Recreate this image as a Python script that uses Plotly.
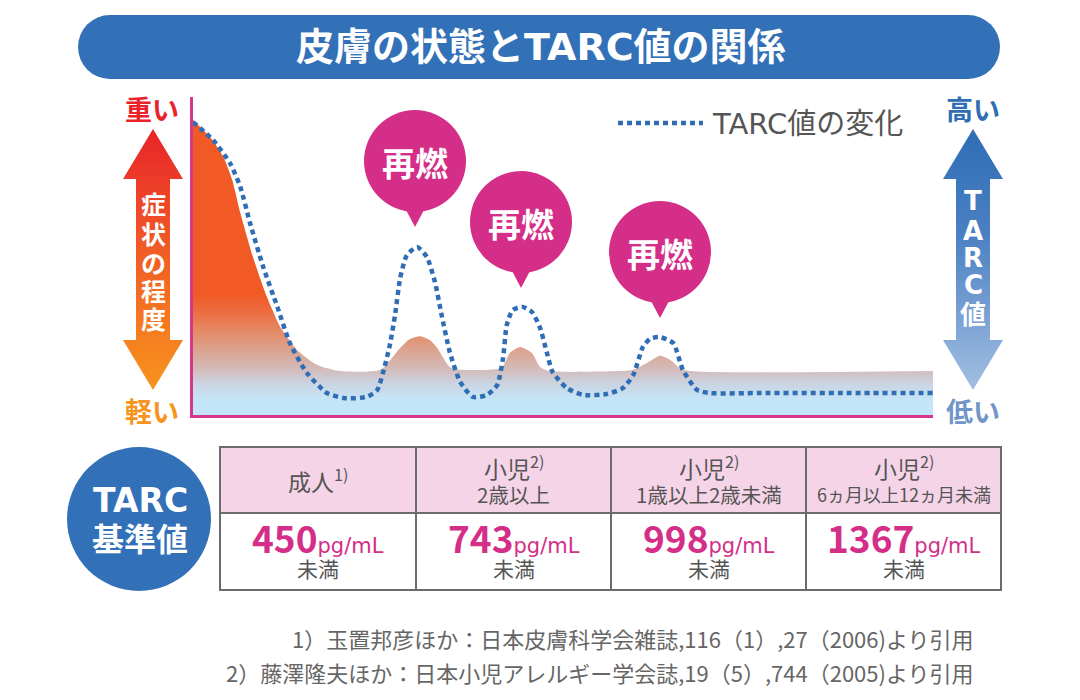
import plotly.graph_objects as go

# page has an 8px body margin: figure is placed at (8, 8) in the 1080x700 window
OFF = 8
W, H = 1080 - OFF, 700 - OFF
FONT = "Noto Sans CJK JP, Noto Sans, sans-serif"
FONT_LAT = "DejaVu Sans, Noto Sans CJK JP, sans-serif"

# ---------------- data ----------------
# time axis 0-100 (arbitrary), level axis 0-100 (arbitrary)
tarc_time = [0.0, 2.7, 5.0, 6.4, 7.7, 9.5, 11.4, 13.1, 15.4, 18.1, 20.5, 23.5, 24.9, 25.7, 26.6,
             27.3, 28.0, 28.9, 30.3, 31.6, 32.7, 33.6, 34.7, 36.1, 37.8, 39.7, 41.1, 41.9, 42.4,
             43.2, 44.5, 45.8, 46.9, 47.8, 48.6, 50.5, 52.7, 55.9, 58.1, 59.5, 60.8, 61.8, 63.1,
             64.9, 66.2, 68.1, 69.9, 76.6, 88.8, 100.0]
tarc_level = [92.1, 86.5, 79.2, 71.7, 60.4, 46.5, 34.0, 22.6, 13.2, 6.9, 5.3, 5.7, 7.9, 13.5, 22.0,
              31.4, 43.1, 50.3, 52.8, 49.7, 41.8, 31.4, 19.8, 10.4, 5.7, 6.3, 9.4, 17.9, 28.3,
              33.0, 34.0, 32.4, 27.4, 19.8, 13.5, 8.5, 6.3, 6.6, 8.5, 12.6, 21.4, 24.0, 24.5,
              22.6, 14.2, 7.9, 6.9, 6.9, 6.9, 6.9]

symptom_time = [0.0, 2.3, 4.1, 5.3, 6.4, 8.1, 10.0, 11.8, 14.1, 16.8, 19.9, 25.3, 28.0, 29.3,
                30.7, 32.0, 33.0, 34.7, 36.1, 41.1, 41.9, 42.8, 44.2, 45.8, 46.9, 48.2, 57.7,
                59.5, 61.4, 63.1, 64.5, 65.8, 67.2, 100.0]
symptom_level = [92.8, 87.4, 81.1, 73.9, 63.5, 49.7, 37.1, 27.7, 20.4, 15.7, 13.8, 14.2, 21.1, 23.9,
                 24.8, 23.6, 21.1, 15.1, 14.2, 14.5, 15.4, 19.5, 21.4, 19.5, 15.1, 13.8, 13.8,
                 14.2, 16.4, 18.6, 17.3, 14.8, 13.8, 13.8]

flare_label = "再燃"
legend_label = "TARC値の変化"
title_text = "皮膚の状態とTARC値の関係"
left_axis_chars = list("症状の程度")
right_axis_chars = ["T", "A", "R", "C", "値"]

table_groups = ["成人", "小児", "小児", "小児"]
table_refs = ["1)", "2)", "2)", "2)"]
table_ages = ["", "2歳以上", "1歳以上2歳未満", "6ヵ月以上12ヵ月未満"]
ref_values = ["450", "743", "998", "1367"]
ref_unit = "pg/mL"
ref_suffix = "未満"
footnotes = ["1）玉置邦彦ほか：日本皮膚科学会雑誌,116（1）,27（2006)より引用",
             "2）藤澤隆夫ほか：日本小児アレルギー学会誌,19（5）,744（2005)より引用"]

# ---------------- colours ----------------
BLUE = "#3270B7"
MAGENTA = "#D42E88"
TARC_BLUE = "#2F6DB5"
GRAY = "#555555"

fig = go.Figure()

# symptom area with vertical gradient
fig.add_trace(go.Scatter(
    x=symptom_time, y=symptom_level, mode="lines", line=dict(width=0, shape="spline", smoothing=0.6),
    fill="tozeroy",
    fillgradient=dict(type="vertical", start=0, stop=100,
                      colorscale=[[0, "#C4E5F8"], [0.05, "#C4E5F8"], [0.10, "#CBD3E0"],
                                  [0.14, "#D3BDBD"], [0.19, "#D9A999"], [0.25, "#E3906F"],
                                  [0.32, "#EC6E43"], [0.38, "#F15A24"], [1, "#F15A24"]]),
    hoverinfo="skip", showlegend=False))

# TARC dotted line
fig.add_trace(go.Scatter(
    x=tarc_time, y=tarc_level, mode="lines",
    line=dict(color=TARC_BLUE, width=4.5, dash="5px,4px", shape="spline", smoothing=0.6),
    hoverinfo="skip", showlegend=False))


# gradient double arrows on pixel overlay axes
def arrow_poly(cx, top, bot, head_h, head_hw, shaft_hw):
    xs = [cx, cx + head_hw, cx + shaft_hw, cx + shaft_hw, cx + head_hw, cx,
          cx - head_hw, cx - shaft_hw, cx - shaft_hw, cx - head_hw, cx]
    ys = [top, top + head_h, top + head_h, bot - head_h, bot - head_h, bot,
          bot - head_h, bot - head_h, top + head_h, top + head_h, top]
    return xs, ys


for cx, cs in [(153, [[0, "#E8242A"], [0.45, "#F05A26"], [1, "#F7941D"]]),
               (973, [[0, "#2F6DB5"], [0.4, "#4A80C2"], [1, "#A3BFE2"]])]:
    xs, ys = arrow_poly(cx, 129, 390, 50, 30, 17)
    fig.add_trace(go.Scatter(
        x=xs, y=ys, xaxis="x2", yaxis="y2", mode="lines", line=dict(width=0),
        fill="toself", fillgradient=dict(type="vertical", start=129, stop=390, colorscale=cs),
        hoverinfo="skip", showlegend=False))

shapes = []
annotations = []


def txt(x, y, text, size, color, xanchor="center", bold=False, family=FONT):
    annotations.append(dict(x=x, y=y, xref="x2", yref="y2", text=f"<b>{text}</b>" if bold else text,
                            showarrow=False, xanchor=xanchor, yanchor="middle",
                            font=dict(family=family, size=size, color=color)))


# title banner
shapes.append(dict(type="rect", xref="x2", yref="y2", x0=110, x1=968, y0=15, y1=79,
                   fillcolor=BLUE, line=dict(width=0), layer="below"))
for ccx in (110, 968):
    shapes.append(dict(type="circle", xref="x2", yref="y2", x0=ccx - 32, x1=ccx + 32, y0=15, y1=79,
                       fillcolor=BLUE, line=dict(width=0), layer="below"))
txt(541, 47, title_text, 38, "white", bold=True, family=FONT_LAT)

# side labels
txt(152, 108, "重い", 27, "#E8242A", bold=True)
txt(152, 410, "軽い", 27, "#F7941D", bold=True)
for ch, yy in zip(left_axis_chars, [203, 233, 262, 290, 318]):
    txt(153, yy, ch, 25, "white", bold=True)
txt(973, 108, "高い", 27, "#2F6DB5", bold=True)
txt(973, 410, "低い", 27, "#6F95C9", bold=True)
for ch, yy in zip(right_axis_chars, [201, 231, 258, 285, 315]):
    txt(973, yy, ch, 26, "white", bold=True, family=FONT_LAT)

# legend
shapes.append(dict(type="line", xref="x2", yref="y2", x0=618, x1=703, y0=123, y1=123,
                   line=dict(color=TARC_BLUE, width=4.5, dash="5px,4px")))
txt(710, 124, legend_label, 29, GRAY, xanchor="left", family=FONT_LAT)

# flare bubbles
for bx, by, r in [(415, 161, 51), (521, 222, 51), (660, 252, 51)]:
    shapes.append(dict(type="circle", xref="x2", yref="y2", x0=bx - r, x1=bx + r, y0=by - r, y1=by + r,
                       fillcolor=MAGENTA, line=dict(width=0)))
    shapes.append(dict(type="path", xref="x2", yref="y2",
                       path=f"M {bx-10} {by+r-4} L {bx+10} {by+r-4} L {bx} {by+r+15} Z",
                       fillcolor=MAGENTA, line=dict(width=0)))
    txt(bx, by + 1, flare_label, 33, "white", bold=True)

# TARC reference circle
shapes.append(dict(type="circle", xref="x2", yref="y2", x0=67, x1=211, y0=447, y1=591,
                   fillcolor=BLUE, line=dict(width=0)))
txt(140, 500, "TARC", 33, "white", bold=True, family=FONT_LAT)
txt(140, 537, "基準値", 32, "white", bold=True)

# table
col_edges = [220, 416, 611, 806, 1001]
shapes.append(dict(type="rect", xref="x2", yref="y2", x0=220, x1=1001, y0=447, y1=513,
                    fillcolor="#F6D4E7", line=dict(width=0), layer="below"))
shapes.append(dict(type="rect", xref="x2", yref="y2", x0=220, x1=1001, y0=447, y1=590,
                   line=dict(color="#6B6B6B", width=2)))
shapes.append(dict(type="line", xref="x2", yref="y2", x0=220, x1=1001, y0=513, y1=513,
                   line=dict(color="#6B6B6B", width=2)))
for xe in col_edges[1:-1]:
    shapes.append(dict(type="line", xref="x2", yref="y2", x0=xe, x1=xe, y0=447, y1=590,
                       line=dict(color="#6B6B6B", width=2)))
for i in range(4):
    cx = (col_edges[i] + col_edges[i + 1]) / 2
    head = f"{table_groups[i]}<sup>{table_refs[i]}</sup>"
    if table_ages[i]:
        txt(cx, 467, head, 23, GRAY)
        txt(cx, 494, table_ages[i], 18 if len(table_ages[i]) > 9 else 20.5, GRAY)
    else:
        txt(cx, 480, head, 23, GRAY)
    txt(cx, 537,
        f"<b>{ref_values[i]}</b><span style='font-size:21px;font-family:DejaVu Sans'>{ref_unit}</span>",
        37, MAGENTA)
    txt(cx, 568, ref_suffix, 21, GRAY)

# footnotes
txt(976, 638, footnotes[0], 22, "#666666", xanchor="right")
txt(976, 672, footnotes[1], 22, "#666666", xanchor="right")

fig.update_layout(
    width=W, height=H, margin=dict(l=0, r=0, t=0, b=0),
    paper_bgcolor="white", plot_bgcolor="rgba(0,0,0,0)",
    hovermode=False, showlegend=False,
    shapes=shapes, annotations=annotations,
    xaxis=dict(domain=[(193 - OFF) / W, (933 - OFF) / W], range=[0, 100], showgrid=False,
               zeroline=False, showticklabels=False, ticks="", showline=True,
               linecolor="#D6378E", linewidth=3, fixedrange=True),
    yaxis=dict(domain=[(H - (415 - OFF)) / H, (H - (97 - OFF)) / H], range=[0, 100], showgrid=False,
               zeroline=False, showticklabels=False, ticks="", showline=True,
               linecolor="#D6378E", linewidth=3, fixedrange=True),
    xaxis2=dict(domain=[0, 1], range=[OFF, OFF + W], visible=False, anchor="y2", fixedrange=True),
    yaxis2=dict(domain=[0, 1], range=[OFF + H, OFF], visible=False, anchor="x2", fixedrange=True),
)

fig.write_html("out.html")
